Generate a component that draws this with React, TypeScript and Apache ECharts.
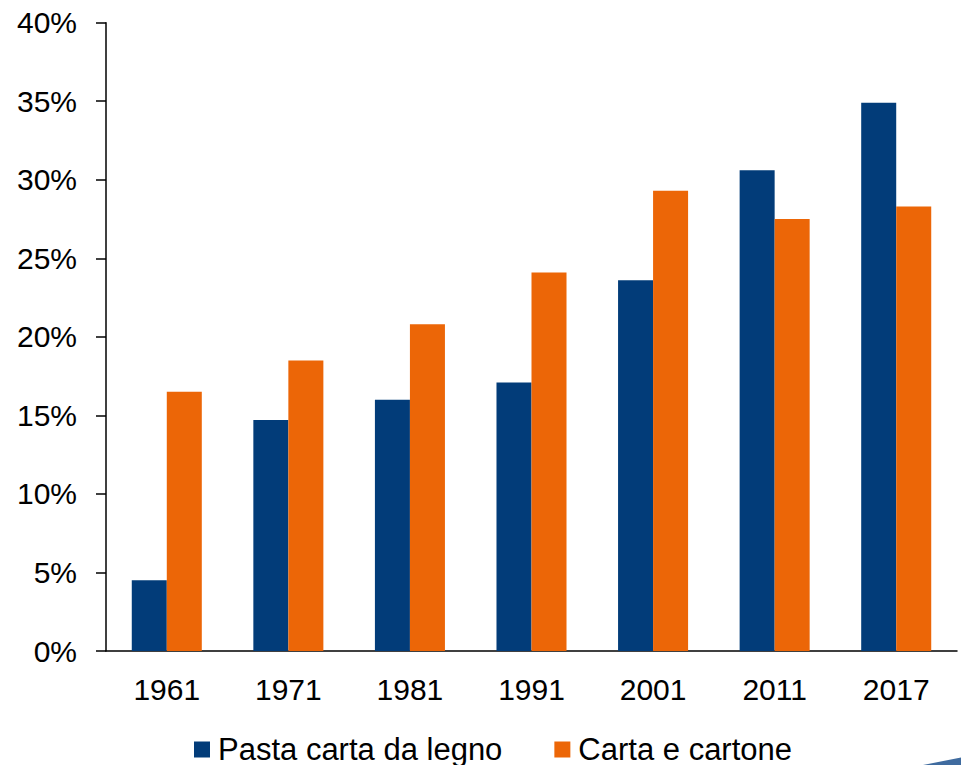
import React, { useEffect, useRef } from "react";
import * as echarts from "echarts";

const categories = ["1961", "1971", "1981", "1991", "2001", "2011", "2017"];
const pastaCarta = [4.5, 14.7, 16.0, 17.1, 23.6, 30.6, 34.9];
const cartaCartone = [16.5, 18.5, 20.8, 24.1, 29.3, 27.5, 28.3];
const seriesNames = ["Pasta carta da legno", "Carta e cartone"];

const BLUE = "#023c79";
const ORANGE = "#ec6607";
const FONT = "'Liberation Sans', Arial, sans-serif";

export default function App() {
  const ref = useRef<HTMLDivElement>(null);
  useEffect(() => {
    document.body.style.margin = "0";
    const chart = echarts.init(ref.current!, null, { renderer: "svg" });
    chart.setOption({
      animation: false,
      textStyle: { fontFamily: FONT },
      grid: { left: 106, right: 4, top: 22.7, bottom: 114, containLabel: false },
      legend: {
        left: 189,
        top: 729,
        itemWidth: 16,
        itemHeight: 16,
        itemGap: 52,
        icon: "rect",
        textStyle: { fontSize: 31, color: "#000", fontFamily: FONT, padding: [0, 0, 0, 3] },
        data: seriesNames,
      },
      xAxis: {
        type: "category",
        data: categories,
        axisLine: { lineStyle: { color: "#000", width: 1.5 } },
        axisTick: { show: false },
        axisLabel: { fontSize: 30, color: "#000", margin: 23, fontFamily: FONT },
      },
      yAxis: {
        type: "value",
        min: 0,
        max: 40,
        interval: 5,
        axisLine: { show: true, lineStyle: { color: "#000", width: 1.5 } },
        axisTick: { show: true, length: 10, lineStyle: { color: "#000", width: 1.5 } },
        splitLine: { show: false },
        axisLabel: {
          fontSize: 30,
          color: "#000",
          margin: 29,
          fontFamily: FONT,
          formatter: (v: number) => `${v}%`,
        },
      },
      series: [
        {
          name: seriesNames[0],
          type: "bar",
          data: pastaCarta,
          barGap: "0%",
          barCategoryGap: "42.4%",
          itemStyle: { color: BLUE },
        },
        {
          name: seriesNames[1],
          type: "bar",
          data: cartaCartone,
          barGap: "0%",
          barCategoryGap: "42.4%",
          itemStyle: { color: ORANGE },
        },
      ],
      graphic: [
        {
          type: "polygon",
          shape: { points: [[923, 765], [961, 757.5], [961, 765]] },
          style: { fill: "#3f6b9f" },
          silent: true,
        },
      ],
    });
    return () => chart.dispose();
  }, []);
  return <div ref={ref} style={{ width: 961, height: 765 }} />;
}
